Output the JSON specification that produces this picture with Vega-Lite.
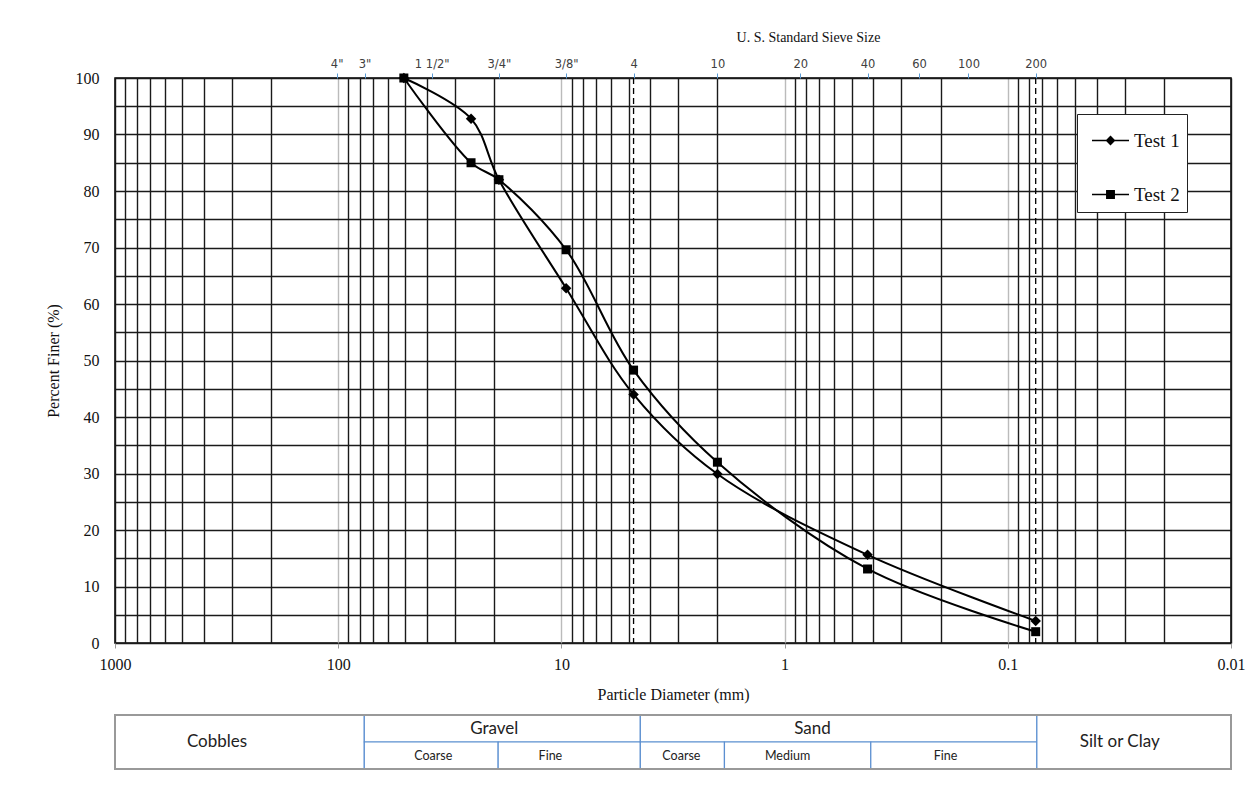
{
  "$schema": "https://vega.github.io/schema/vega-lite/v6.json",
  "background": "white",
  "padding": {"left": 44, "top": 29, "right": 5, "bottom": 5},
  "config": {"view": {"stroke": null}},
  "spacing": 11,
  "resolve": {"scale": {"x": "shared", "y": "independent"}, "legend": {"shape": "independent"}},
  "vconcat": [
    {
      "width": 1116,
      "height": 565,
      "view": {"stroke": "black", "strokeWidth": 1.5},
      "data": {
        "values": [
          {"test": "Test 1", "d": 50.8, "pct": 100},
          {"test": "Test 1", "d": 25.4, "pct": 92.8},
          {"test": "Test 1", "d": 19.05, "pct": 82},
          {"test": "Test 1", "d": 9.525, "pct": 62.8},
          {"test": "Test 1", "d": 4.75, "pct": 44},
          {"test": "Test 1", "d": 2.0, "pct": 29.9},
          {"test": "Test 1", "d": 0.425, "pct": 15.6},
          {"test": "Test 1", "d": 0.075, "pct": 3.9},
          {"test": "Test 2", "d": 50.8, "pct": 100},
          {"test": "Test 2", "d": 25.4, "pct": 85},
          {"test": "Test 2", "d": 19.05, "pct": 82},
          {"test": "Test 2", "d": 9.525, "pct": 69.6},
          {"test": "Test 2", "d": 4.75, "pct": 48.3},
          {"test": "Test 2", "d": 2.0, "pct": 32},
          {"test": "Test 2", "d": 0.425, "pct": 13.1},
          {"test": "Test 2", "d": 0.075, "pct": 2}
        ]
      },
      "resolve": {"axis": {"x": "independent", "y": "independent"}, "scale": {"shape": "independent"}},
      "layer": [
        {
          "mark": {"type": "line", "interpolate": "catmull-rom", "stroke": "black", "strokeWidth": 2},
          "encoding": {
            "x": {
              "field": "d", "type": "quantitative",
              "scale": {"type": "log", "domain": [0.01, 1000], "reverse": true, "nice": false},
              "axis": {
                "orient": "bottom",
                "values": [1000,900,800,700,600,500,400,300,200,100,90,80,70,60,50,40,30,20,10,9,8,7,6,5,4,3,2,1,0.9,0.8,0.7,0.6,0.5,0.4,0.3,0.2,0.1,0.09,0.08,0.07,0.06,0.05,0.04,0.03,0.02,0.01],
                "labelExpr": "abs(log(datum.value)/LN10 - round(log(datum.value)/LN10)) < 0.001 ? format(datum.value, '~g') : ''",
                "grid": true,
                "gridColor": {"condition": {"test": "abs(log(datum.value)/LN10 - round(log(datum.value)/LN10)) < 0.001 && datum.value < 999 && datum.value > 0.0101", "value": "#bbbbbb"}, "value": "#1a1a1a"},
                "gridWidth": 1.4,
                "domain": false,
                "ticks": true,
                "tickSize": 5,
                "tickColor": {"condition": {"test": "abs(log(datum.value)/LN10 - round(log(datum.value)/LN10)) < 0.001", "value": "#999999"}, "value": "transparent"},
                "labelFont": "Liberation Serif",
                "labelFontSize": 16,
                "labelColor": "#111111",
                "labelPadding": 8,
                "labelOverlap": false,
                "labelFlush": false,
                "labelBound": false,
                "title": "Particle Diameter (mm)",
                "titleFont": "Liberation Serif",
                "titleFontSize": 16,
                "titleFontWeight": "normal",
                "titleColor": "#111111",
                "titlePadding": 14
              }
            },
            "y": {
              "field": "pct", "type": "quantitative",
              "scale": {"domain": [0, 100], "nice": false},
              "axis": {
                "values": [0,5,10,15,20,25,30,35,40,45,50,55,60,65,70,75,80,85,90,95,100],
                "labelExpr": "datum.value % 10 === 0 ? datum.label : ''",
                "grid": true,
                "gridColor": "#1a1a1a",
                "gridWidth": 1.4,
                "domain": false,
                "ticks": false,
                "tickSize": 0,
                "labelFont": "Liberation Serif",
                "labelFontSize": 16,
                "labelColor": "#111111",
                "labelPadding": 16,
                "labelOverlap": false,
                "title": "Percent Finer (%)",
                "titleFont": "Liberation Serif",
                "titleFontSize": 16,
                "titleFontWeight": "normal",
                "titleColor": "#111111",
                "titlePadding": 14
              }
            },
            "detail": {"field": "test"}
          }
        },
        {
          "data": {"values": [{"d": 4.75}, {"d": 0.075}]},
          "mark": {"type": "rule", "stroke": "black", "strokeWidth": 1.3, "strokeDash": [6, 4]},
          "encoding": {
            "x": {"field": "d", "type": "quantitative", "axis": null}
          }
        },
        {
          "transform": [{"filter": "datum.test === 'Test 1'"}],
          "mark": {"type": "point", "shape": "diamond", "filled": true, "color": "black", "opacity": 1, "size": 110},
          "encoding": {
            "x": {
              "field": "d", "type": "quantitative",
              "axis": {
                "orient": "top",
                "values": [101.6, 76.2, 38.1, 19.05, 9.525, 4.75, 2, 0.85, 0.425, 0.25, 0.15, 0.075],
                "labelExpr": "datum.value > 100 ? '4\"' : datum.value > 70 ? '3\"' : datum.value > 30 ? '1 1/2\"' : datum.value > 15 ? '3/4\"' : datum.value > 9 ? '3/8\"' : datum.value > 4 ? '4' : datum.value > 1.5 ? '10' : datum.value > 0.8 ? '20' : datum.value > 0.4 ? '40' : datum.value > 0.2 ? '60' : datum.value > 0.1 ? '100' : '200'",
                "grid": false,
                "domain": false,
                "tickSize": 5,
                "tickColor": "#5b9bd5",
                "labelFont": "DejaVu Sans",
                "labelFontSize": 11.5,
                "labelColor": "#404040",
                "labelPadding": 4,
                "labelOverlap": false,
                "labelFlush": false,
                "labelBound": false,
                "title": "U. S. Standard Sieve Size",
                "titleFont": "Liberation Serif",
                "titleFontSize": 14,
                "titleFontWeight": "normal",
                "titleColor": "#111111",
                "titleX": 693,
                "titleAlign": "center",
                "titlePadding": 14
              }
            },
            "y": {"field": "pct", "type": "quantitative", "axis": null}
          }
        },
        {
          "transform": [{"filter": "datum.test === 'Test 2'"}],
          "mark": {"type": "point", "shape": "square", "filled": true, "color": "black", "opacity": 1, "size": 81},
          "encoding": {
            "x": {"field": "d", "type": "quantitative", "axis": null},
            "y": {"field": "pct", "type": "quantitative", "axis": null}
          }
        },
        {
          "transform": [{"filter": "false"}],
          "mark": {"type": "point", "filled": true, "color": "black", "stroke": "black", "strokeWidth": 2, "opacity": 1},
          "encoding": {
            "x": {"field": "d", "type": "quantitative", "axis": null},
            "y": {"field": "pct", "type": "quantitative", "axis": null},
            "shape": {
              "field": "test", "type": "nominal",
              "scale": {"domain": ["Test 1", "Test 2"], "range": ["M-1,0L1,0M0,-0.21L0.21,0L0,0.21L-0.21,0Z", "M-1,0L1,0M-0.2,-0.2L0.2,-0.2L0.2,0.2L-0.2,0.2Z"]},
              "legend": {
                "orient": "none",
                "legendX": 962,
                "legendY": 36,
                "title": null,
                "fillColor": "white",
                "strokeColor": "#222222",
                "padding": 7,
                "symbolSize": 1369,
                "symbolOffset": 7,
                "rowPadding": 24,
                "labelFont": "Liberation Serif",
                "labelFontSize": 19,
                "labelColor": "#111111",
                "labelOffset": 4,
                "encode": {
                  "symbols": {
                    "update": {
                      "fill": {"value": "black"},
                      "stroke": {"value": "black"},
                      "strokeWidth": {"value": 2},
                      "opacity": {"value": 1}
                    }
                  }
                }
              }
            }
          }
        }
      ]
    },
    {
      "width": 1116,
      "height": 54,
      "view": {"stroke": null},
      "data": {
        "values": [
          {"name": "Cobbles", "kind": "main", "x1": 1000, "x2": 76.4, "y1": 0, "y2": 2, "lx": 349, "ly": 1},
          {"name": "Gravel", "kind": "main", "x1": 76.4, "x2": 4.43, "y1": 1, "y2": 2, "lx": 20, "ly": 1.5},
          {"name": "Coarse", "kind": "sub", "x1": 76.4, "x2": 19.2, "y1": 0, "y2": 1, "lx": 37.5, "ly": 0.5},
          {"name": "Fine", "kind": "sub", "x1": 19.2, "x2": 4.43, "y1": 0, "y2": 1, "lx": 11.2, "ly": 0.5},
          {"name": "Sand", "kind": "main", "x1": 4.43, "x2": 0.0741, "y1": 1, "y2": 2, "lx": 0.75, "ly": 1.5},
          {"name": "Coarse", "kind": "sub", "x1": 4.43, "x2": 1.86, "y1": 0, "y2": 1, "lx": 2.9, "ly": 0.5},
          {"name": "Medium", "kind": "sub", "x1": 1.86, "x2": 0.411, "y1": 0, "y2": 1, "lx": 0.97, "ly": 0.5},
          {"name": "Fine", "kind": "sub", "x1": 0.411, "x2": 0.0741, "y1": 0, "y2": 1, "lx": 0.19, "ly": 0.5},
          {"name": "Silt or Clay", "kind": "main", "x1": 0.0741, "x2": 0.01, "y1": 0, "y2": 2, "lx": 0.0315, "ly": 1}
        ]
      },
      "layer": [
        {
          "mark": {"type": "rect", "fill": "white", "stroke": "#5b8fd0", "strokeWidth": 1.2},
          "encoding": {
            "x": {"field": "x1", "type": "quantitative", "scale": {"type": "log", "domain": [0.01, 1000], "reverse": true, "nice": false}, "axis": null},
            "x2": {"field": "x2"},
            "y": {"field": "y1", "type": "quantitative", "scale": {"domain": [0, 2], "nice": false}, "axis": null},
            "y2": {"field": "y2"}
          }
        },
        {
          "data": {"values": [{"x1": 1000, "x2": 0.01, "y1": 0, "y2": 2}]},
          "mark": {"type": "rect", "fill": "transparent", "stroke": "#999999", "strokeWidth": 2},
          "encoding": {
            "x": {"field": "x1", "type": "quantitative", "axis": null},
            "x2": {"field": "x2"},
            "y": {"field": "y1", "type": "quantitative", "axis": null},
            "y2": {"field": "y2"}
          }
        },
        {
          "transform": [{"filter": "datum.kind === 'main'"}],
          "mark": {"type": "text", "font": "Lato", "fontSize": 17, "color": "#222222"},
          "encoding": {
            "x": {"field": "lx", "type": "quantitative", "axis": null},
            "y": {"field": "ly", "type": "quantitative", "axis": null},
            "text": {"field": "name"}
          }
        },
        {
          "transform": [{"filter": "datum.kind === 'sub'"}],
          "mark": {"type": "text", "font": "Lato", "fontSize": 12.5, "color": "#222222"},
          "encoding": {
            "x": {"field": "lx", "type": "quantitative", "axis": null},
            "y": {"field": "ly", "type": "quantitative", "axis": null},
            "text": {"field": "name"}
          }
        }
      ]
    }
  ]
}
